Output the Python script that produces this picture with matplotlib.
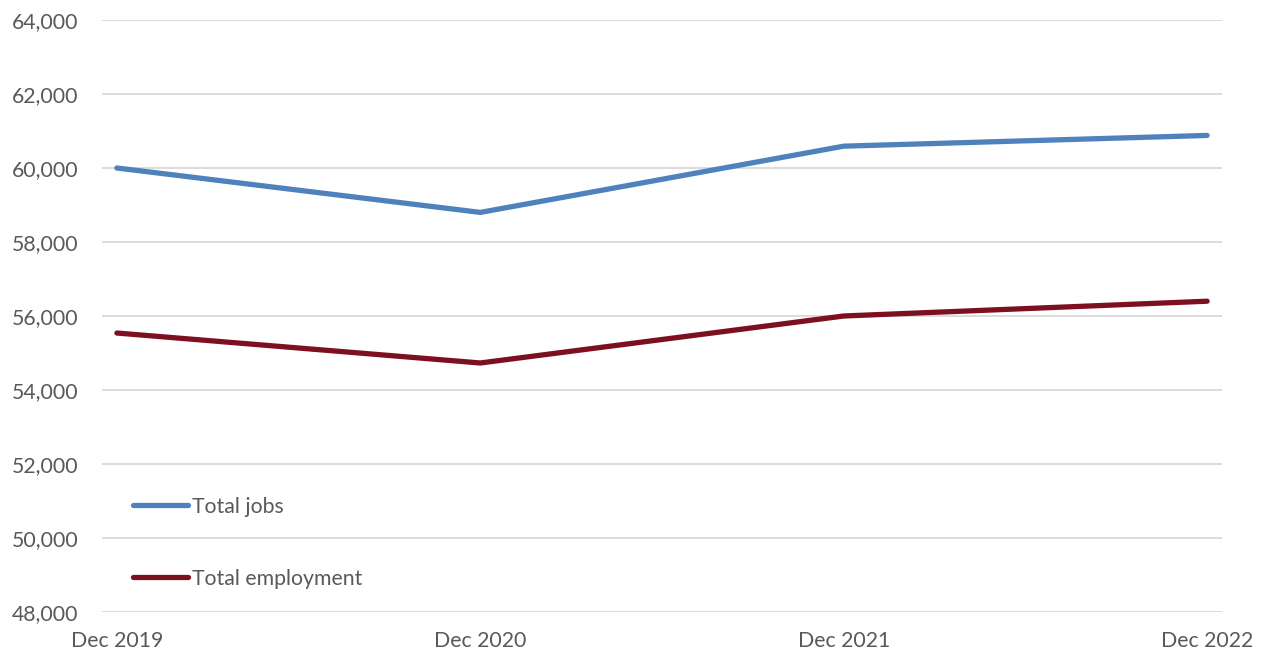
import matplotlib.pyplot as plt
from matplotlib.ticker import FuncFormatter, MultipleLocator

periods = ["Dec 2019", "Dec 2020", "Dec 2021", "Dec 2022"]
total_jobs = [60000, 58800, 60590, 60880]
total_employment = [55540, 54730, 56000, 56400]

plt.rcParams['font.family'] = ['Lato', 'DejaVu Sans']

fig = plt.figure(figsize=(12.65, 6.55), dpi=100)
ax = fig.add_axes([102 / 1265, 43 / 655, 1120 / 1265, 592 / 655])

x = range(len(periods))
ax.plot(x, total_jobs, color='#4F81BD', lw=3.8, solid_capstyle='round',
        solid_joinstyle='round', label='Total jobs')
ax.plot(x, total_employment, color='#7D1020', lw=3.8, solid_capstyle='round',
        solid_joinstyle='round', label='Total employment')

ax.set_xlim(-0.041, 3.041)
ax.set_ylim(48000, 64000)
ax.yaxis.set_major_locator(MultipleLocator(2000))
ax.yaxis.set_major_formatter(FuncFormatter(lambda v, p: f"{int(v):,}"))
ax.set_xticks(list(x))
ax.set_xticklabels(periods)

ax.grid(axis='y', color='#D9D9D9', lw=1.3)
ax.set_axisbelow(True)
for s in ax.spines.values():
    s.set_visible(False)
ax.tick_params(length=0, labelsize=15.3, colors='#595959')
ax.tick_params(axis='y', pad=17)
ax.tick_params(axis='x', pad=14)

leg = ax.legend(loc='upper left', bbox_to_anchor=(0.0105, 0.227), frameon=False,
                fontsize=15.3, handlelength=2.6, handletextpad=0.2,
                labelspacing=2.45)
for t in leg.get_texts():
    t.set_color('#595959')

fig.savefig('out.png', dpi=100)
